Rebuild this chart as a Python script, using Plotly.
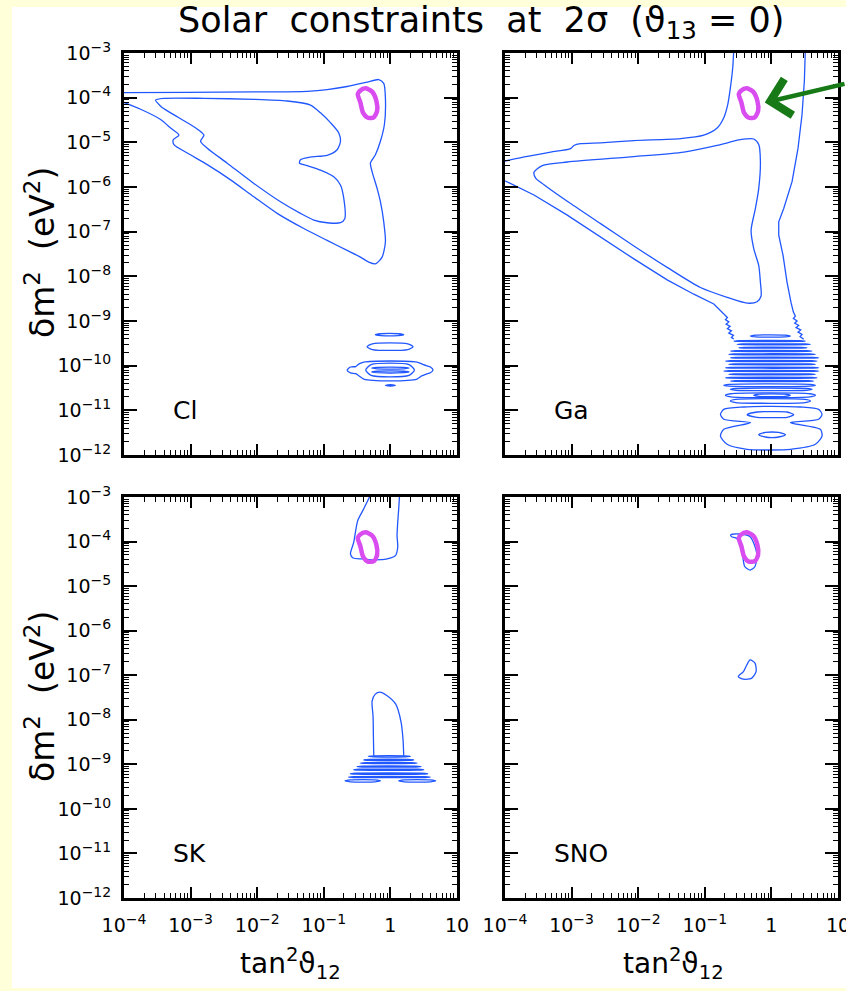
import plotly.graph_objects as go

W, H = 846, 991
BLUE = "#2157ff"
MAGENTA = "#d94cf0"
FONT = "DejaVu Sans"

# ---------------- data: (log10 tan^2 theta12, log10 dm^2 [eV^2]) -------------
LMA = [(-0.46, -3.85), (-0.375, -3.79), (-0.275, -3.865), (-0.21, -4.075), (-0.20, -4.30),
       (-0.25, -4.44), (-0.34, -4.45), (-0.41, -4.34), (-0.45, -4.11), (-0.49, -3.92), (-0.46, -3.85)]

# Cl panel
CL_OUTER = [(-4.1, -3.887), (-3.05, -3.88), (-2.05, -3.872), (-1.25, -3.857), (-0.95, -3.82), (-0.65, -3.75),
            (-0.35, -3.654), (-0.175, -3.594), (-0.10, -3.68), (-0.075, -4.0), (-0.09, -4.60), (-0.15, -4.977),
            (-0.225, -5.278), (-0.30, -5.466), (-0.275, -5.654), (-0.20, -6.03), (-0.15, -6.33), (-0.10, -6.78),
            (-0.075, -7.23), (-0.125, -7.57), (-0.225, -7.72), (-0.325, -7.68), (-0.45, -7.57), (-0.65, -7.42),
            (-0.95, -7.195), (-1.30, -6.93), (-1.70, -6.59), (-2.05, -6.22), (-2.40, -5.84), (-2.75, -5.50),
            (-3.05, -5.24), (-3.25, -5.05), (-3.26, -4.94), (-3.175, -4.84), (-3.30, -4.68), (-3.45, -4.49),
            (-3.75, -4.26), (-4.1, -4.05)]
CL_INNER = [(-3.525, -4.053), (-3.40, -4.015), (-2.80, -4.015), (-2.05, -4.038), (-1.55, -4.075), (-1.20, -4.165),
            (-1.05, -4.34), (-0.90, -4.56), (-0.775, -4.79), (-0.75, -4.98), (-0.80, -5.165), (-0.95, -5.29),
            (-1.20, -5.33), (-1.35, -5.39), (-1.365, -5.466), (-1.25, -5.52), (-1.05, -5.62), (-0.85, -5.77),
            (-0.75, -5.955), (-0.70, -6.256), (-0.685, -6.71), (-0.75, -6.80), (-0.95, -6.80), (-1.15, -6.74),
            (-1.35, -6.59), (-1.65, -6.33), (-2.05, -5.92), (-2.45, -5.466), (-2.75, -5.13), (-2.85, -4.977),
            (-2.80, -4.84), (-2.875, -4.73), (-3.05, -4.56), (-3.30, -4.34), (-3.45, -4.19), (-3.525, -4.053)]
CL_RING = [(-0.65, -10.097), (-0.60, -10.03), (-0.52, -10.02), (-0.47, -9.96), (-0.40, -9.92), (0.0, -9.895),
           (0.40, -9.92), (0.47, -9.96), (0.54, -10.0), (0.60, -10.03), (0.64, -10.097), (0.60, -10.16),
           (0.54, -10.19), (0.47, -10.23), (0.40, -10.30), (0.0, -10.34), (-0.40, -10.30), (-0.47, -10.23),
           (-0.52, -10.18), (-0.60, -10.16), (-0.65, -10.097)]
# islands: centre log dm^2, left/right log tan^2, half height (decades)
CL_ISL_Y = [-9.306, -9.575, -10.097, -10.055, -10.14, -10.44]
CL_ISL_L = [-0.225, -0.35, -0.37, -0.28, -0.28, -0.075]
CL_ISL_R = [0.20, 0.34, 0.36, 0.28, 0.28, 0.075]
CL_ISL_H = [0.02, 0.065, 0.12, 0.015, 0.015, 0.012]

# Ga panel
GA_UPPER = [(-0.565, -2.9), (-0.58, -3.32), (-0.615, -3.77), (-0.655, -4.15), (-0.715, -4.45), (-0.815, -4.68),
            (-1.015, -4.84), (-1.365, -4.917), (-2.065, -4.96), (-2.565, -5.01), (-2.865, -5.03), (-2.965, -5.07),
            (-3.015, -5.14), (-3.315, -5.22), (-3.665, -5.316), (-4.1, -5.45)]
GA_LOWER = [(-4.1, -5.79), (-3.565, -6.18), (-3.065, -6.63), (-2.565, -7.12), (-2.065, -7.61), (-1.565, -8.08),
            (-1.165, -8.40), (-0.865, -8.62), (-0.74, -8.81), (-0.70, -8.86), (-0.66, -8.92), (-0.69, -8.97),
            (-0.64, -9.02), (-0.68, -9.07), (-0.62, -9.12), (-0.66, -9.17), (-0.60, -9.22), (-0.64, -9.27),
            (-0.57, -9.32), (-0.60, -9.37), (-0.565, -9.40)]
GA_RIGHT = [(0.51, -2.9), (0.495, -3.62), (0.46, -4.376), (0.40, -5.13), (0.31, -5.88), (0.185, -6.48),
            (0.11, -6.78), (0.11, -7.08), (0.175, -7.53), (0.235, -8.135), (0.295, -8.59), (0.33, -8.80),
            (0.36, -8.89), (0.33, -8.94), (0.385, -9.0), (0.35, -9.05), (0.41, -9.10), (0.37, -9.15),
            (0.44, -9.20), (0.40, -9.25), (0.46, -9.30), (0.43, -9.35), (0.485, -9.41)]
GA_INNER = [(-3.565, -5.67), (-3.44, -5.52), (-3.065, -5.44), (-2.065, -5.32), (-1.315, -5.22), (-0.815, -5.07),
            (-0.465, -4.94), (-0.265, -4.925), (-0.19, -5.05), (-0.165, -5.43), (-0.19, -6.03), (-0.24, -6.48),
            (-0.305, -6.97), (-0.265, -7.38), (-0.19, -7.76), (-0.165, -8.135), (-0.155, -8.44), (-0.215, -8.57),
            (-0.365, -8.60), (-0.665, -8.47), (-1.065, -8.25), (-1.565, -7.80), (-2.065, -7.32), (-2.565, -6.82),
            (-3.065, -6.32), (-3.415, -5.95), (-3.54, -5.80), (-3.565, -5.67)]
GA_STRIPE_Y = [-9.336, -9.448, -9.522, -9.597, -9.672, -9.746, -9.821, -9.896, -9.97,
               -10.045, -10.12, -10.194, -10.269, -10.343, -10.44, -10.53,
               -10.664, -10.664, -10.79]
GA_STRIPE_L = [-0.315, -0.565, -0.515, -0.49, -0.615, -0.64, -0.615, -0.69, -0.64,
               -0.69, -0.715, -0.64, -0.69, -0.615, -0.715, -0.615,
               -0.69, -0.265, -0.615]
GA_STRIPE_R = [0.285, 0.51, 0.585, 0.535, 0.61, 0.66, 0.71, 0.685, 0.66,
               0.71, 0.71, 0.66, 0.685, 0.635, 0.66, 0.61,
               0.66, 0.285, 0.585]
GA_STRIPE_H = [0.02, 0.008, 0.008, 0.008, 0.008, 0.008, 0.008, 0.008, 0.008,
               0.008, 0.008, 0.008, 0.008, 0.008, 0.02, 0.02,
               0.035, 0.025, 0.035]
GA_HOURGLASS = [(-0.765, -11.09), (-0.715, -10.978), (-0.415, -10.925), (0.0, -10.91), (0.435, -10.925),
                (0.71, -10.978), (0.76, -11.09), (0.71, -11.20), (0.285, -11.276), (0.735, -11.425),
                (0.76, -11.575), (0.66, -11.76), (0.285, -11.873), (0.0, -11.888), (-0.365, -11.873),
                (-0.665, -11.76), (-0.765, -11.575), (-0.715, -11.425), (-0.315, -11.276), (-0.715, -11.20),
                (-0.765, -11.09)]
GA_HOLE1 = [(-0.365, -11.097), (-0.215, -11.037), (0.0, -11.03), (0.235, -11.037), (0.335, -11.097),
            (0.235, -11.157), (0.0, -11.164), (-0.215, -11.157), (-0.365, -11.097)]
GA_HOLE2 = [(-0.19, -11.545), (-0.09, -11.493), (0.01, -11.485), (0.11, -11.493), (0.21, -11.545),
            (0.11, -11.597), (0.01, -11.612), (-0.09, -11.597), (-0.19, -11.545)]

# SK panel
SK_TOP = [(-0.28, -2.9), (-0.40, -3.263), (-0.49, -3.526), (-0.525, -3.79), (-0.55, -4.015), (-0.60, -4.278),
          (-0.56, -4.368), (-0.425, -4.39), (-0.25, -4.41), (-0.05, -4.39), (0.075, -4.316), (0.11, -4.128),
          (0.10, -3.865), (0.11, -3.564), (0.125, -3.263), (0.14, -2.9)]
SK_ARCH = [(-0.25, -8.80), (-0.255, -8.4), (-0.26, -7.93), (-0.275, -7.58), (-0.23, -7.43), (-0.16, -7.38),
           (-0.06, -7.45), (0.08, -7.65), (0.16, -8.05), (0.19, -8.45), (0.20, -8.80)]
SK_STRIPE_Y = [-8.82, -8.90, -8.97, -9.05, -9.12, -9.21, -9.285, -9.37, -9.37]
SK_STRIPE_L = [-0.33, -0.40, -0.45, -0.50, -0.55, -0.60, -0.63, -0.68, 0.125]
SK_STRIPE_R = [0.30, 0.35, 0.40, 0.46, 0.50, 0.56, 0.60, -0.15, 0.68]
SK_STRIPE_H = [0.01, 0.01, 0.01, 0.01, 0.01, 0.01, 0.01, 0.022, 0.022]

# SNO panel
SNO_UPPER = [(-0.60, -3.89), (-0.61, -3.85), (-0.50, -3.83), (-0.32, -3.89), (-0.22, -4.26), (-0.246, -4.56),
             (-0.32, -4.64), (-0.40, -4.56), (-0.43, -4.34), (-0.47, -4.08), (-0.52, -3.93), (-0.60, -3.89)]
SNO_LOWER = [(-0.32, -6.655), (-0.246, -6.73), (-0.23, -6.92), (-0.30, -7.07), (-0.42, -7.09), (-0.497, -7.03),
             (-0.42, -6.92), (-0.37, -6.77), (-0.32, -6.655)]

X_TICKS = [1e-4, 1e-3, 1e-2, 1e-1, 1, 10]
X_EXP = ["−4", "−3", "−2", "−1", None, None]
X_PLAIN = [None, None, None, None, "1", "10"]
Y_TICKS = [10.0 ** (-k) for k in range(3, 13)]
Y_EXP = ["−%d" % k for k in range(3, 13)]
PANELS = ["Cl", "Ga", "SK", "SNO"]

SUP = '10<sup><span style="font-size:14px">%s</span></sup>'
X_TEXT = [SUP % e if e else p for e, p in zip(X_EXP, X_PLAIN)]
Y_TEXT = [SUP % e for e in Y_EXP]

# ---------------------------------------------------------------------------------------------------
fig = go.Figure()


def add_curve(pts, n, color=BLUE, width=1.3, shape="spline"):
    fig.add_trace(go.Scatter(
        x=[10 ** p[0] for p in pts], y=[10 ** p[1] for p in pts], mode="lines",
        line=dict(color=color, width=width, shape=shape, smoothing=0.7),
        xaxis="x" if n == 1 else "x%d" % n, yaxis="y" if n == 1 else "y%d" % n,
        hoverinfo="skip", showlegend=False))


def add_islands(ys, ls, rs, hs, n):
    for yc, l, r, h in zip(ys, ls, rs, hs):
        d = min(0.08, (r - l) / 4)
        pts = [(l, yc), (l + d, yc + h), (r - d, yc + h), (r, yc), (r - d, yc - h), (l + d, yc - h), (l, yc)]
        add_curve(pts, n, shape="spline")


# Cl
add_curve(CL_OUTER, 1)
add_curve(CL_INNER, 1)
add_curve(CL_RING, 1)
add_islands(CL_ISL_Y, CL_ISL_L, CL_ISL_R, CL_ISL_H, 1)
# Ga
add_curve(GA_UPPER, 2)
add_curve(GA_LOWER, 2, shape="linear")
add_curve(GA_RIGHT, 2, shape="linear")
add_curve(GA_INNER, 2)
add_islands(GA_STRIPE_Y, GA_STRIPE_L, GA_STRIPE_R, GA_STRIPE_H, 2)
add_curve(GA_HOURGLASS, 2)
add_curve(GA_HOLE1, 2)
add_curve(GA_HOLE2, 2)
# SK
add_curve(SK_TOP, 3)
add_curve(SK_ARCH, 3)
add_islands(SK_STRIPE_Y, SK_STRIPE_L, SK_STRIPE_R, SK_STRIPE_H, 3)
# SNO
add_curve(SNO_UPPER, 4)
add_curve(SNO_LOWER, 4)
# LMA best-fit region in every panel
for n in range(1, 5):
    add_curve(LMA, n, color=MAGENTA, width=4.5)

XD = [[124 / W, 457 / W], [505 / W, 838 / W]]
YD = [[(H - 455) / H, (H - 53) / H], [(H - 898) / H, (H - 497) / H]]

layout = dict(
    width=W, height=H, autosize=False,
    margin=dict(l=0, r=0, t=0, b=0, pad=0, autoexpand=False),
    paper_bgcolor="#FFFFDA", plot_bgcolor="white",
    font=dict(family=FONT, color="black"), showlegend=False,
)
for n in range(1, 5):
    row, col = (n - 1) // 2, (n - 1) % 2
    common = dict(type="log", showline=True, linecolor="black", linewidth=3, mirror="ticks",
                  ticks="inside", tickwidth=1.5, tickcolor="black", showgrid=False, automargin=False,
                  zeroline=False, tickfont=dict(size=19, family=FONT), ticklabeloverflow="allow",
                  minor=dict(ticks="inside", ticklen=5, tickwidth=1, tickcolor="black", dtick="D1",
                             showgrid=False))
    sx = "" if n == 1 else str(n)
    layout["xaxis" + sx] = dict(common, domain=XD[col], range=[-4, 1], anchor="y" + sx, ticklen=11,
                                tickmode="array", tickvals=X_TICKS, ticktext=X_TEXT,
                                showticklabels=(row == 1), ticklabelstandoff=8)
    layout["yaxis" + sx] = dict(common, domain=YD[row], range=[-12, -3], anchor="x" + sx, ticklen=13,
                                tickmode="array", tickvals=Y_TICKS, ticktext=Y_TEXT,
                                showticklabels=(col == 0), ticklabelstandoff=6)
fig.update_layout(**layout)

fig.add_shape(type="rect", xref="paper", yref="paper", x0=12 / W, x1=1.01, y0=3 / H, y1=(H - 7) / H,
              fillcolor="white", line_width=0, layer="below")

ann = []
ann.append(dict(text="Solar  constraints  at  2σ  (ϑ<sub>13</sub> = 0)", xref="paper", yref="paper",
                x=481 / W, y=(H - 23) / H, showarrow=False, font=dict(size=35, family=FONT),
                xanchor="center", yanchor="middle"))
for yc in [(H - 253) / H, (H - 697) / H]:
    ann.append(dict(text="δm<sup>2</sup>  (eV<sup>2</sup>)", xref="paper", yref="paper", x=40 / W, y=yc,
                    textangle=-90, showarrow=False, font=dict(size=33, family=FONT),
                    xanchor="center", yanchor="middle"))
for xc in [290 / W, 673 / W]:
    ann.append(dict(text="tan<sup>2</sup>ϑ<sub>12</sub>", xref="paper", yref="paper", x=xc, y=(H - 963) / H,
                    showarrow=False, font=dict(size=28, family=FONT), xanchor="center", yanchor="middle"))
for n, name in enumerate(PANELS, start=1):
    sx = "" if n == 1 else str(n)
    ann.append(dict(text=name, xref="x" + sx, yref="y" + sx, x=-3.29, y=-11.0, showarrow=False,
                    font=dict(size=25, family=FONT), xanchor="left", yanchor="middle"))
# green arrow pointing at the LMA region in the Ga panel
ann.append(dict(text="", xref="x2", yref="y2", x=-0.10, y=-4.11, ax=95, ay=-19, showarrow=True,
                arrowhead=4, arrowsize=1.6, arrowwidth=4.5, arrowcolor="#177a17"))
fig.update_layout(annotations=ann)

fig.write_html("out.html", config={"responsive": False, "displayModeBar": False},
               post_script="document.body.style.margin='0px';"
                           "document.body.style.background='#FFFFDA';")
